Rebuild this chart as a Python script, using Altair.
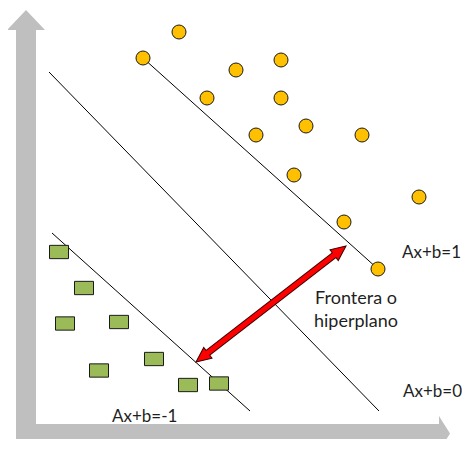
import altair as alt
import pandas as pd
import numpy as np

# All values, in picture coordinates (x to the right, y downward)

# class +1 : yellow circles
circle_x = [179, 143, 281, 236, 207, 281, 306, 256, 362, 294, 419, 344, 378]
circle_y = [32, 58, 60, 70, 98, 98, 126, 135, 135, 175, 197, 222, 269]

# class -1 : green rectangles
square_x = [59, 84, 65, 119, 154, 99, 188, 219]
square_y = [252, 288, 323.5, 322, 359, 370.5, 385, 383.5]

# the three parallel lines
line_names = ["Ax+b=1", "Ax+b=0", "Ax+b=-1"]
line_x1 = [143, 49, 52]
line_y1 = [58, 72, 233]
line_x2 = [378, 379, 250]
line_y2 = [269, 411, 411]

# margin arrow (both tips)
margin_x = [196, 346]
margin_y = [362, 246]

# labels
label_text = ["Ax+b=1", "Ax+b=0", "Ax+b=-1"]
label_x = [402, 403, 112]
label_y = [258, 397, 422]
note_text = ["Frontera o", "hiperplano"]
note_x = [356, 356]
note_y = [304, 327]

# decorative coordinate axes (gray block arrows)
shaft_x1 = [16, 16]
shaft_x2 = [36, 439]
shaft_y1 = [30, 424]
shaft_y2 = [443, 443]
uphead_x = [7, 26, 45]
uphead_y = [30, 10, 30]
righthead_x = [439, 450]
righthead_top = [416, 433.5]
righthead_bottom = [451, 433.5]

W, H = 454, 431
xs = alt.Scale(domain=[8, 8 + W], range=[0, W], nice=False, zero=False)
ys = alt.Scale(domain=[8, 8 + H], range=[0, H], nice=False, zero=False)


def X(f):
    return alt.X(f, type="quantitative", scale=xs, axis=None)


def Y(f):
    return alt.Y(f, type="quantitative", scale=ys, axis=None)


GRAY = "#BFBFBF"

shafts = pd.DataFrame({"x1": shaft_x1, "x2": shaft_x2, "y1": shaft_y1, "y2": shaft_y2})
shaft_layer = alt.Chart(shafts).mark_rect(color=GRAY, opacity=1).encode(
    x=X("x1"), x2="x2", y=Y("y1"), y2="y2")

up = pd.DataFrame({"x": uphead_x, "y": uphead_y, "base": [uphead_y[0]] * 3})
up_layer = alt.Chart(up).mark_area(color=GRAY, opacity=1, orient="vertical").encode(
    x=X("x"), y=Y("y"), y2="base")

rt = pd.DataFrame({"x": righthead_x, "top": righthead_top, "bottom": righthead_bottom})
rt_layer = alt.Chart(rt).mark_area(color=GRAY, opacity=1, orient="vertical").encode(
    x=X("x"), y=Y("top"), y2="bottom")

lines = pd.DataFrame({"name": line_names, "x1": line_x1, "y1": line_y1,
                      "x2": line_x2, "y2": line_y2})
line_layer = alt.Chart(lines).mark_rule(color="#000000", strokeWidth=1).encode(
    x=X("x1"), y=Y("y1"), x2="x2", y2="y2")

circles = pd.DataFrame({"x": circle_x, "y": circle_y})
circle_layer = alt.Chart(circles).mark_point(
    shape="circle", filled=True, fill="#FFC000", stroke="#1a1a1a",
    strokeWidth=1, size=196, opacity=1).encode(x=X("x"), y=Y("y"))

squares = pd.DataFrame({"x": square_x, "y": square_y})
square_layer = alt.Chart(squares).mark_point(
    shape="M-1,-0.7L1,-0.7L1,0.7L-1,0.7Z", filled=True, fill="#9BBB59",
    stroke="#1a1a1a", strokeWidth=1, size=361, opacity=1).encode(x=X("x"), y=Y("y"))

# margin arrow geometry derived from the two tips
p0 = np.array([margin_x[0], margin_y[0]], dtype=float)
p1 = np.array([margin_x[1], margin_y[1]], dtype=float)
u = (p1 - p0) / np.linalg.norm(p1 - p0)
s0 = p0 + 9 * u
s1 = p1 - 9 * u
shaft = pd.DataFrame({"x1": [s0[0]], "y1": [s0[1]], "x2": [s1[0]], "y2": [s1[1]]})
ang_up = float(np.degrees(np.arctan2(u[0], -u[1]))) % 360
heads = pd.DataFrame({"x": margin_x, "y": margin_y,
                      "angle": [(ang_up + 180) % 360, ang_up]})

shaft_dark = alt.Chart(shaft).mark_rule(color="#3a0000", strokeWidth=7).encode(
    x=X("x1"), y=Y("y1"), x2="x2", y2="y2")
head_layer = alt.Chart(heads).mark_point(
    shape="M0,0L0.9,2L-0.9,2Z", filled=True, fill="#FF0000", stroke="#3a0000",
    strokeWidth=1, size=225, opacity=1).encode(
    x=X("x"), y=Y("y"), angle=alt.Angle("angle:Q", scale=None))
shaft_red = alt.Chart(shaft).mark_rule(color="#FF0000", strokeWidth=5).encode(
    x=X("x1"), y=Y("y1"), x2="x2", y2="y2")

labels = pd.DataFrame({"t": label_text, "x": label_x, "y": label_y})
label_layer = alt.Chart(labels).mark_text(
    font="Lato", fontSize=17, align="left", baseline="alphabetic", color="#1f1f1f").encode(
    x=X("x"), y=Y("y"), text="t:N")

notes = pd.DataFrame({"t": note_text, "x": note_x, "y": note_y})
note_layer = alt.Chart(notes).mark_text(
    font="Lato", fontSize=18, align="center", baseline="alphabetic", color="#1f1f1f").encode(
    x=X("x"), y=Y("y"), text="t:N")

chart = alt.layer(
    shaft_layer, up_layer, rt_layer, line_layer, circle_layer, square_layer,
    shaft_dark, head_layer, shaft_red, label_layer, note_layer
).properties(width=W, height=H, padding=0, autosize="none", background="white"
).configure_view(stroke=None)

chart.save("out.html", embed_options={"renderer": "svg", "actions": False})
